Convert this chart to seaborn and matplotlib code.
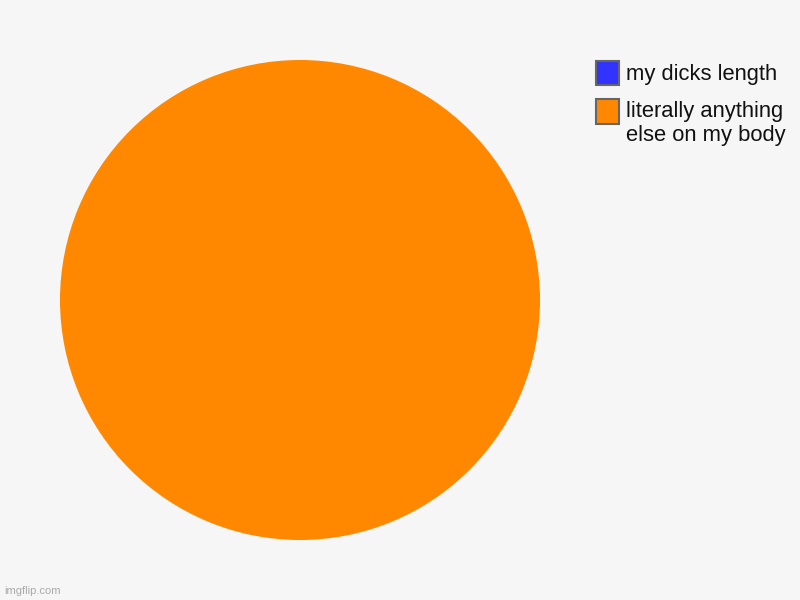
import matplotlib
matplotlib.use("Agg")
import matplotlib.pyplot as plt
import matplotlib.patches as mpatches
import seaborn as sns

# data
labels = ["my dicks length", "literally anything\nelse on my body"]
values = [0, 100]
colors = ["#3333ff", "#ff8800"]

sns.set_theme(style="white")
plt.rcParams["font.family"] = ["Liberation Sans", "DejaVu Sans"]

bg = "#f6f6f6"
fig = plt.figure(figsize=(8, 6), dpi=100, facecolor=bg)
ax = fig.add_axes([60 / 800, 60 / 600, 480 / 800, 480 / 600])
ax.set_facecolor(bg)

ax.pie(values, colors=colors, startangle=90, counterclock=False,
       radius=1, wedgeprops=dict(linewidth=0))
ax.set_xlim(-1, 1)
ax.set_ylim(-1, 1)
ax.set_aspect("equal")
ax.axis("off")

# legend boxes with grey outline
fs = 15.8
handles = [mpatches.Patch(facecolor=c, edgecolor="#666666", linewidth=1.5) for c in colors]
leg = fig.legend(handles, labels, loc="upper left", bbox_to_anchor=(578 / 800, 1 - 43 / 600),
                 frameon=False, fontsize=fs, handlelength=1.09, handleheight=1.31,
                 handletextpad=0.3, labelspacing=0.72, borderpad=0.3)
for t in leg.get_texts():
    t.set_color("#111111")
# put the box of the two-line entry next to its first line
p = leg.get_patches()[1]
p.set_y(p.get_y() + 9)

fig.text(4 / 800, 1 - 591 / 600, "imgflip.com", fontsize=8, color="#aaaaaa", va="center")

fig.savefig("out.png", dpi=100, facecolor=bg)
